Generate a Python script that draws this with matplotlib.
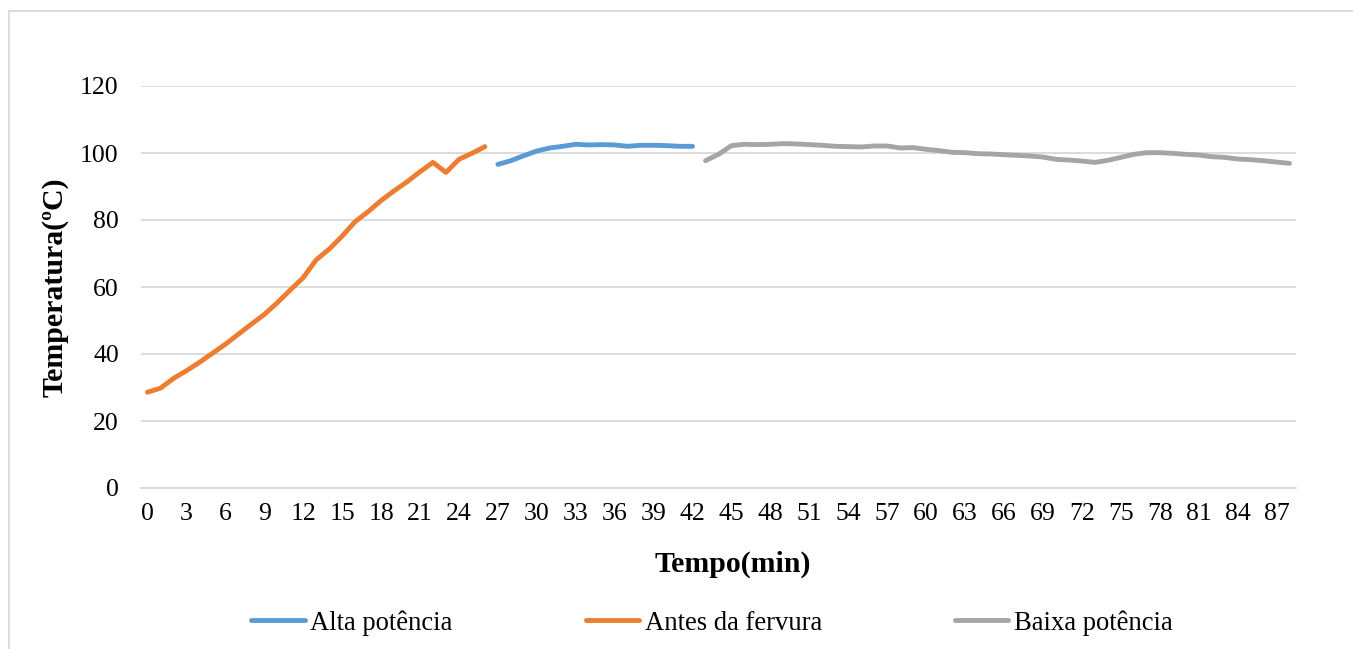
import numpy as np
import matplotlib
matplotlib.use("Agg")
import matplotlib.pyplot as plt
from matplotlib.patches import Rectangle

plt.rcParams["font.family"] = ["Liberation Serif", "DejaVu Serif"]

# tempo em minutos (eixo de categorias)
minutos = list(range(89))

# Antes da fervura: minutos 0..26
antes_fervura = [28.6, 29.8, 32.7, 35.0, 37.5, 40.2, 42.9, 45.9, 48.9, 51.8,
                 55.3, 59.1, 62.8, 68.1, 71.3, 75.2, 79.5, 82.5, 85.8, 88.7,
                 91.4, 94.4, 97.2, 94.2, 98.1, 99.9, 101.9]

# Alta potencia: minutos 27..42
alta_potencia = [96.6, 97.7, 99.2, 100.6, 101.5, 102.0, 102.6, 102.4, 102.5,
                 102.4, 102.0, 102.3, 102.3, 102.2, 102.0, 102.0]

# Baixa potencia: minutos 43..88
baixa_potencia = [97.7, 99.6, 102.2, 102.6, 102.5, 102.6, 102.8, 102.7, 102.5,
                  102.3, 102.0, 101.9, 101.8, 102.1, 102.1, 101.5, 101.6, 101.1,
                  100.7, 100.2, 100.1, 99.8, 99.7, 99.5, 99.3, 99.1, 98.8, 98.1,
                  97.9, 97.6, 97.2, 97.8, 98.7, 99.6, 100.1, 100.1, 99.9, 99.6,
                  99.4, 98.9, 98.7, 98.2, 98.0, 97.7, 97.3, 96.9]

x_antes = minutos[:len(antes_fervura)]
x_alta = minutos[len(antes_fervura):len(antes_fervura) + len(alta_potencia)]
x_baixa = minutos[len(antes_fervura) + len(alta_potencia):]

W, H = 1353, 649
fig = plt.figure(figsize=(W / 100, H / 100), dpi=100)
ax = fig.add_axes([141 / W, 1 - 488 / H, (1296 - 141) / W, (488 - 86) / H])

# borda da area do grafico
fig.patches.append(Rectangle((9 / W, -0.1), 1.2, 1.1 - 11 / H,
                             transform=fig.transFigure, fill=False,
                             edgecolor="#D9D9D9", lw=1.3))

l1, = ax.plot(x_alta, alta_potencia, color="#5B9BD5", lw=3.5,
              solid_capstyle="round", label="Alta potência")
l2, = ax.plot(x_antes, antes_fervura, color="#ED7D31", lw=3.5,
              solid_capstyle="round", label="Antes da fervura")
l3, = ax.plot(x_baixa, baixa_potencia, color="#A5A5A5", lw=3.5,
              solid_capstyle="round", label="Baixa potência")

ax.set_xlim(-0.5, len(minutos) - 0.5)
ax.set_ylim(0, 120)
ax.set_yticks(np.arange(0, 121, 20))
ax.set_xticks(minutos[::3])
ax.set_xticklabels([str(m) for m in minutos[::3]])

ax.grid(axis="y", color="#D9D9D9", lw=1.3)
ax.set_axisbelow(True)
for s in ["top", "right", "left"]:
    ax.spines[s].set_visible(False)
ax.spines["bottom"].set_color("#D9D9D9")
ax.spines["bottom"].set_linewidth(1.3)

ax.tick_params(axis="both", length=0, labelsize=18.5, colors="black")
ax.tick_params(axis="y", pad=16)
ax.tick_params(axis="x", pad=11)

ax.set_xlabel("Tempo(min)", fontsize=21.5, fontweight="bold", labelpad=18,
              x=0.512)
ax.set_ylabel("Temperatura(ºC)", fontsize=21.5, fontweight="bold", labelpad=8)

fig.legend(handles=[l1, l2, l3], loc="center", ncol=3,
           bbox_to_anchor=(712 / W, 1 - 623 / H), frameon=False,
           fontsize=19.2, handlelength=2.0, handletextpad=0.2,
           columnspacing=5.0)

fig.savefig("out.png", dpi=100)
